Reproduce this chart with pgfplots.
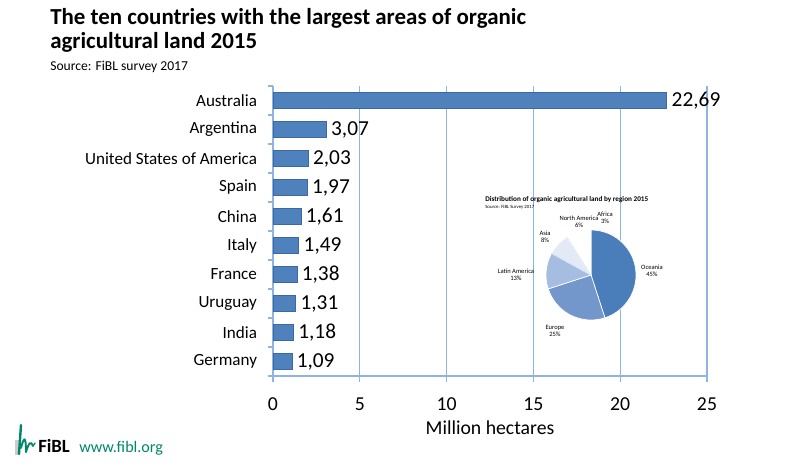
\documentclass[border=0pt]{standalone}
\usepackage{pgfplots}
\pgfplotsset{compat=1.18}
\usepackage{fontspec}
\setmainfont{Carlito}
\definecolor{barfill}{HTML}{4F81BD}
\definecolor{bardraw}{HTML}{3B6AA3}
\definecolor{gridc}{HTML}{8EB4E3}
\definecolor{pieA}{HTML}{4A7EBB}
\definecolor{pieB}{HTML}{7397CB}
\definecolor{pieC}{HTML}{A5BDE0}
\definecolor{pieD}{HTML}{E3EAF5}
\definecolor{fiblgreen}{HTML}{00876A}
\pgfplotstableread{
idx value
0 22.69
1 3.07
2 2.03
3 1.97
4 1.61
5 1.49
6 1.38
7 1.31
8 1.18
9 1.09
}\countries
\newcommand{\fs}[1]{\fontsize{#1}{#1}\selectfont}
\begin{document}
\begin{tikzpicture}[x=0.75pt,y=0.75pt]
\path[use as bounding box,fill=white] (0,0) rectangle (800,470);
\coordinate (O) at (273,94);
% titles
\node[anchor=base west,inner sep=0,font=\fs{17.2}\bfseries] at (50,445) {The ten countries with the largest areas of organic};
\node[anchor=base west,inner sep=0,font=\fs{17.2}\bfseries] at (50,421) {agricultural land 2015};
\node[anchor=base west,inner sep=0,font=\fs{10.2}] at (50,399) {Source: FiBL survey 2017};
\begin{axis}[
  at={(O)}, anchor=south west,
  scale only axis, width=325.5pt, height=217.5pt,
  xmin=0, xmax=25, ymin=-0.5, ymax=9.5,
  y dir=reverse,
  axis x line*=bottom, axis y line*=left,
  axis line style={gridc, line width=0.9pt},
  xtick={0,5,10,15,20,25},
  ytick={0,...,9},
  yticklabels={Australia,Argentina,United States of America,Spain,China,Italy,France,Uruguay,India,Germany},
  minor ytick={-0.5,0.5,...,9.5},
  tick align=outside,
  major tick length=4.5pt,
  minor tick length=3.75pt,
  y tick style={draw=none},
  minor y tick style={draw=gridc, line width=0.9pt},
  x tick style={draw=gridc, line width=0.9pt},
  xmajorgrids, major grid style={gridc, line width=0.9pt},
  /pgf/number format/assume math mode=true,
  xticklabel style={font=\fs{14.8}, anchor=center, yshift=-16.5pt},
  yticklabel style={font=\fs{12.8}, xshift=-4pt},
  xlabel={Million hectares},
  xlabel style={font=\fs{14.8}, at={(axis description cs:0.5,0)}, anchor=center, yshift=-38.5pt},
  xbar, bar width=12pt,
  nodes near coords,
  every node near coord/.append style={font=\fs{16}, black, /pgf/number format/.cd, fixed, fixed zerofill, precision=2, use comma},
  clip=false,
]
\addplot[fill=barfill, draw=bardraw, line width=0.6pt] table[x=value,y=idx] {\countries};
\end{axis}
% inset pie
\node[anchor=base west,inner sep=0,font=\fs{5.4}\bfseries] at (485,268) {Distribution of organic agricultural land by region 2015};
\node[anchor=base west,inner sep=0,font=\fs{3.6}] at (485,261) {Source: FiBL Survey 2017};
\foreach \s/\v/\c in {0/45/pieA,45/25/pieB,70/13/pieC,83/8/pieD,91/6/white,97/3/white}{
  \pgfmathsetmacro\a{90-3.6*\s}
  \pgfmathsetmacro\b{90-3.6*(\s+\v)}
  \filldraw[fill=\c, draw=white, line width=0.5pt] (591,195) -- ++(\a:45) arc[start angle=\a, end angle=\b, radius=45] -- cycle;
}
\draw[gridc!60, line width=0.3pt] (591,195) -- ++(-208.8:45);
\draw[gridc!40, line width=0.3pt] (591,195) -- ++(-237.6:45);
\begin{scope}[every node/.style={font=\fs{4.9}, align=center, inner sep=0}]
\node at (652,199) {Oceania\\45\%};
\node at (555,139) {Europe\\25\%};
\node at (516,195) {Latin America\\13\%};
\node at (545,233) {Asia\\8\%};
\node at (579,248) {North America\\6\%};
\node at (605,252) {Africa\\3\%};
\end{scope}
% logo
\fill[gray!40] (15,15) rectangle (20,30);
\draw[fiblgreen, line width=1.8pt, line cap=round] (19,16) -- (21,45);
\draw[fiblgreen, line width=1.4pt, line cap=round] (21,22) .. controls (24,34) and (26,34) .. (26,18);
\draw[fiblgreen, line width=1.4pt, line cap=round] (26,18) .. controls (29,28) and (31,29) .. (33,24);
\draw[fiblgreen, line width=1.0pt, line cap=round] (33,24) -- (35,27);
\node[anchor=base west, inner sep=0, font=\fs{14}\bfseries] at (38,17) {FiBL};
\node[anchor=base west, inner sep=0, font=\fs{12.1}, text=fiblgreen] at (79,17) {www.fibl.org};
\end{tikzpicture}
\end{document}
